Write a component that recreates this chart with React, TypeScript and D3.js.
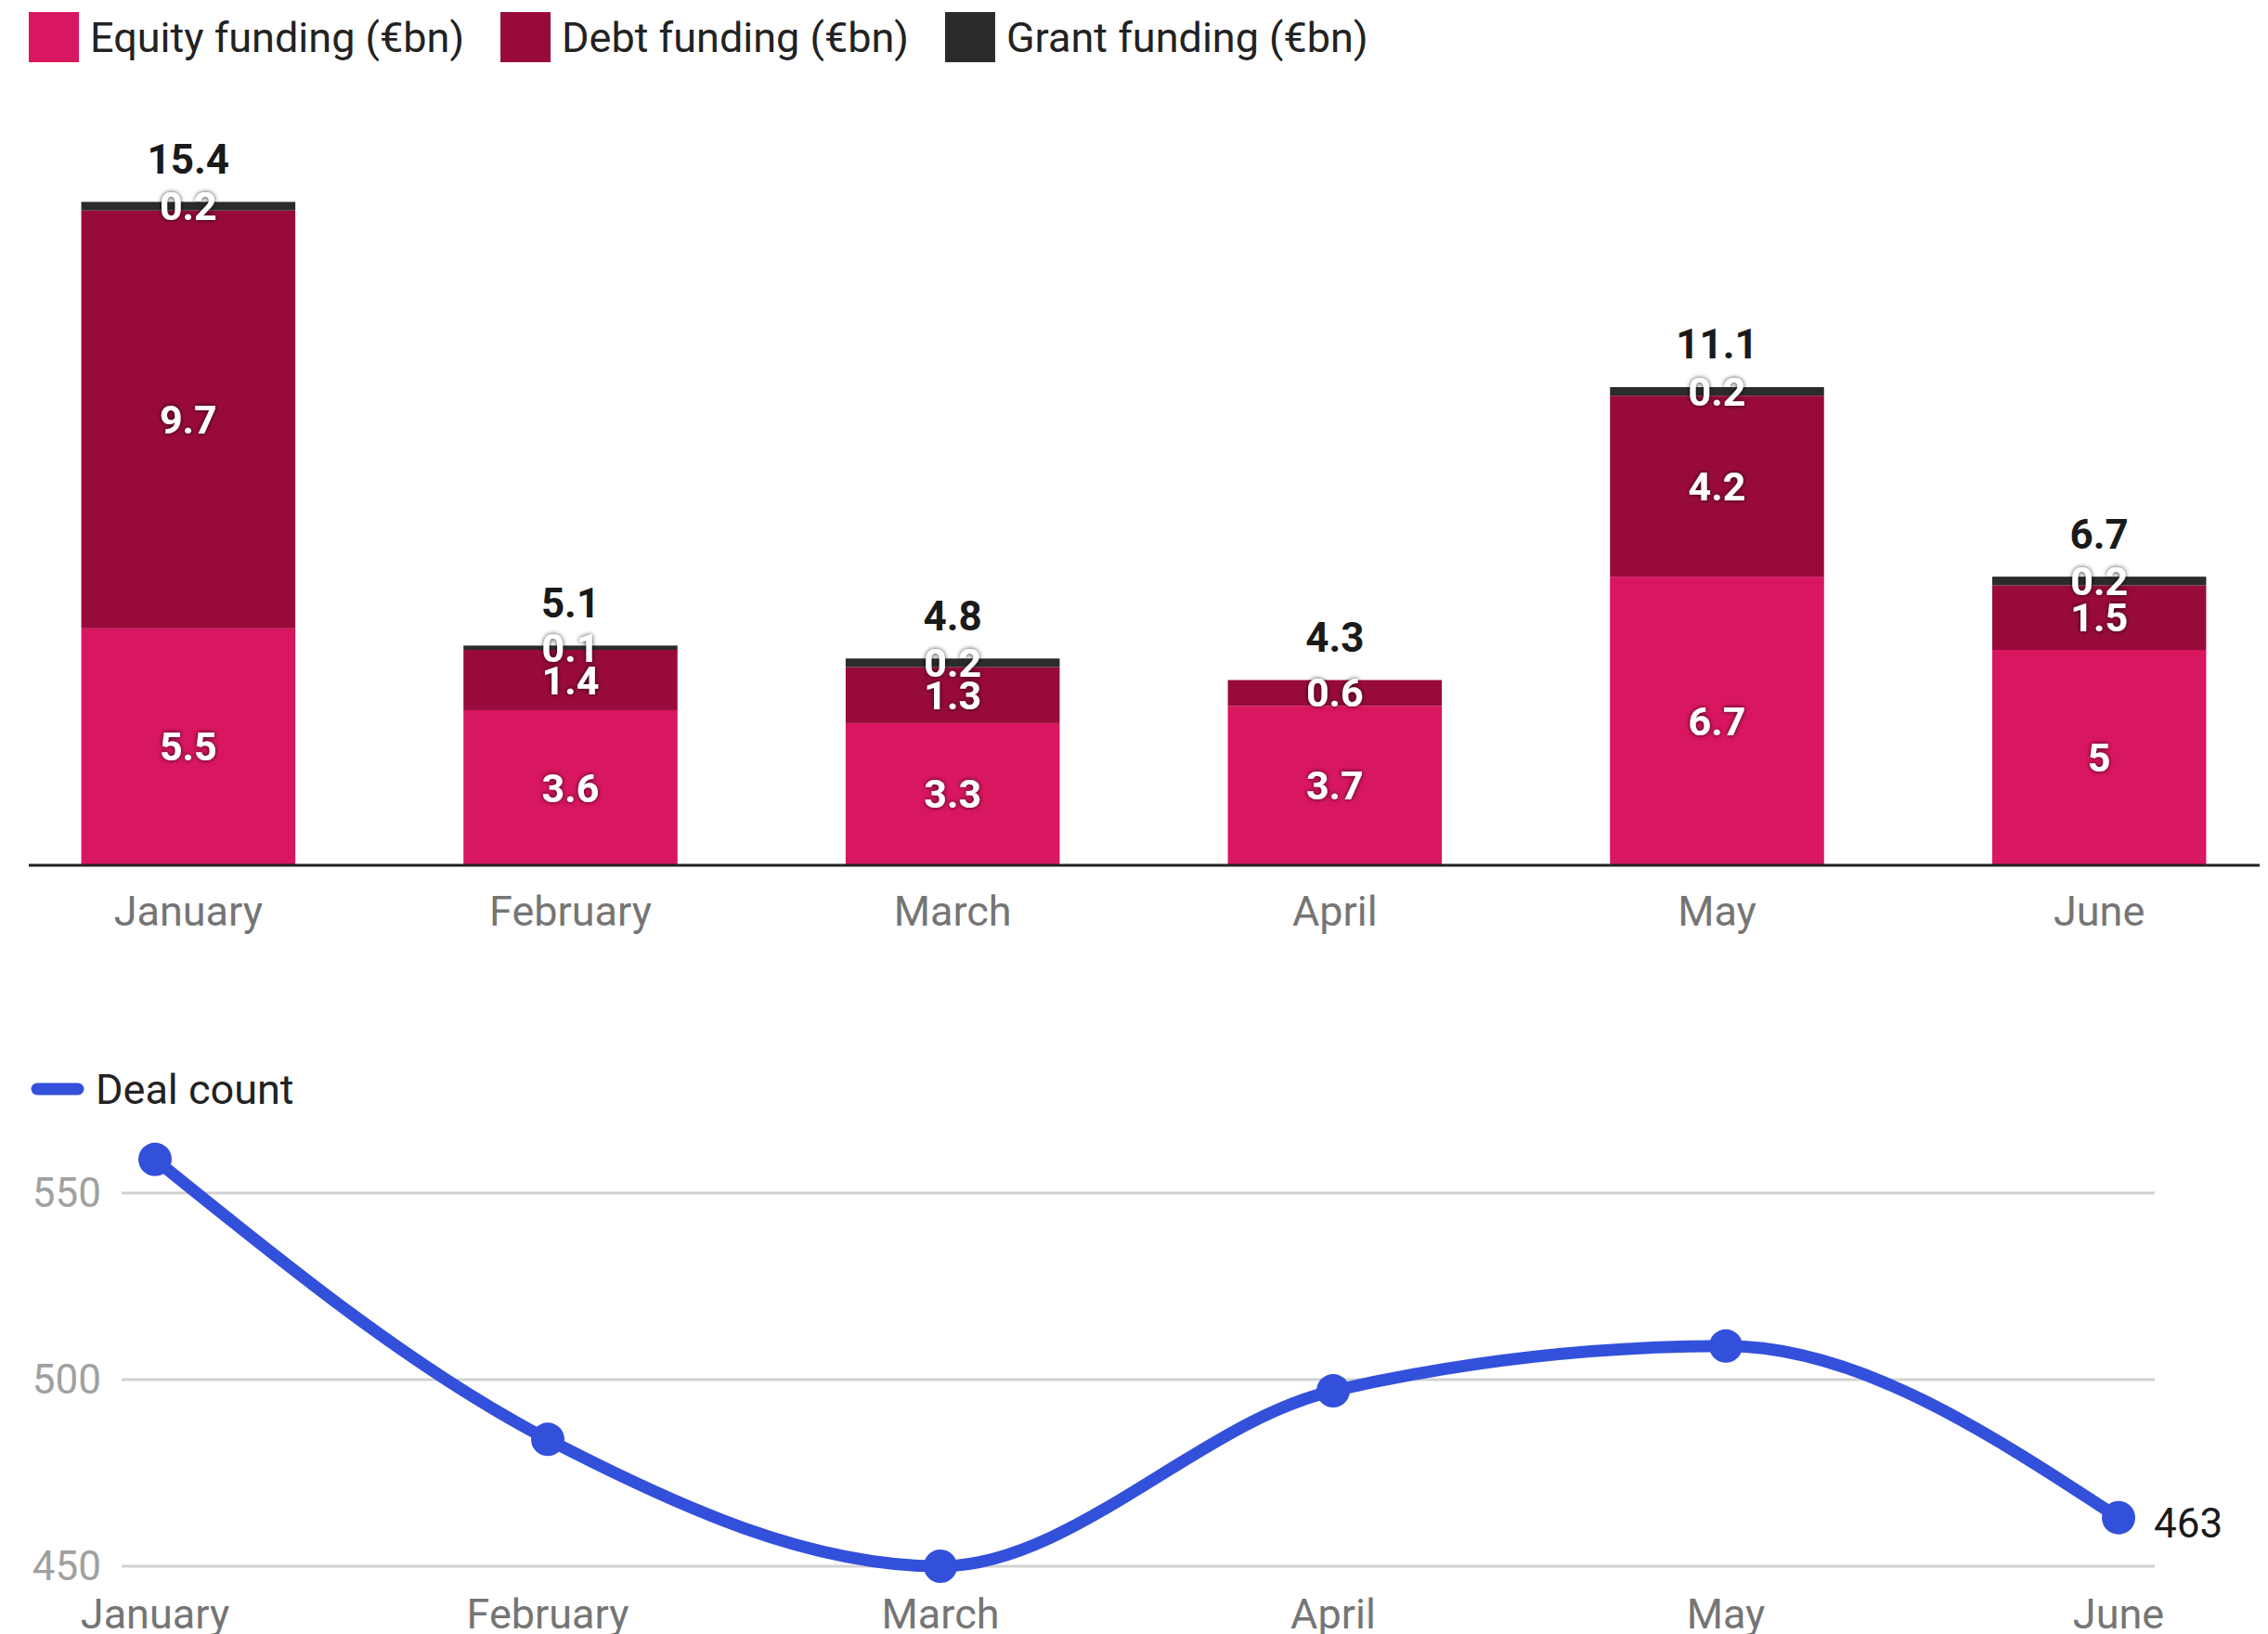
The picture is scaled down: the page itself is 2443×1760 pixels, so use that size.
import React from 'react';
import * as d3 from 'd3';

const months = ['January', 'February', 'March', 'April', 'May', 'June'];
const equity = [5.5, 3.6, 3.3, 3.7, 6.7, 5];
const debt = [9.7, 1.4, 1.3, 0.6, 4.2, 1.5];
const grant = [0.2, 0.1, 0.2, 0, 0.2, 0.2];
const totals = [15.4, 5.1, 4.8, 4.3, 11.1, 6.7];
const seriesKeys = ['equity', 'debt', 'grant'];
const seriesNames = ['Equity funding (€bn)', 'Debt funding (€bn)', 'Grant funding (€bn)'];
const seriesColors = ['#d91660', '#990a3c', '#2b2b2b'];

const dealCount = [559, 484, 450, 497, 509, 463];
const dealTicks = [450, 500, 550];
const lineName = 'Deal count';
const lineColor = '#3350db';

const W = 2443;
const H = 1760;
const FONT = 'Roboto, "Noto Sans", sans-serif';

function textWidth(s: string, font: string) {
  const ctx = document.createElement('canvas').getContext('2d');
  if (!ctx) return s.length * 22;
  ctx.font = font;
  return ctx.measureText(s).width;
}

export default function App() {
  // bar chart scales
  const x = d3.scaleBand().domain(months).range([-3, 2467]).paddingInner(0.44).paddingOuter(0.22);
  const y = d3.scaleLinear().domain([0, 20]).range([932, 4]);

  const rows = months.map((m, i) => ({ month: m, equity: equity[i], debt: debt[i], grant: grant[i] }));
  const stacked = d3.stack<any>().keys(seriesKeys)(rows);

  // legend layout
  let lx = 31;
  const legend = seriesNames.map((name, i) => {
    const item = { name, color: seriesColors[i], x: lx };
    lx += 54 + 12 + textWidth(name, `45px ${FONT}`) + 39;
    return item;
  });

  // line chart scales
  const xl = d3.scalePoint().domain(months).range([167, 2282]);
  const yl = d3.scaleLinear().domain([450, 550]).range([1687, 1285]);
  const line = d3.line<number>()
    .x((_, i) => xl(months[i]) as number)
    .y(d => yl(d))
    .curve(d3.curveMonotoneX);

  const last = dealCount.length - 1;

  return (
    <svg width={W} height={H} style={{ display: 'block', fontFamily: FONT }}>
      <style>{`body{margin:0}`}</style>
      <defs>
        <filter id="shadow" x="-30%" y="-30%" width="160%" height="160%">
          <feDropShadow dx="0" dy="0" stdDeviation="2.5" floodColor="#000" floodOpacity="0.8" />
        </filter>
      </defs>
      <rect width={W} height={H} fill="#fff" />

      {/* legend */}
      {legend.map(l => (
        <g key={l.name}>
          <rect x={l.x} y={13} width={54} height={54} fill={l.color} />
          <text x={l.x + 66} y={40} dy="0.35em" fontSize={45} fill="#222">{l.name}</text>
        </g>
      ))}

      {/* stacked bars */}
      {stacked.map((s, si) => (
        <g key={s.key} fill={seriesColors[si]}>
          {s.map((d, i) => (
            d[1] - d[0] > 0 ? (
              <rect key={i} x={x(months[i])} y={y(d[1])} width={x.bandwidth()} height={y(d[0]) - y(d[1])} />
            ) : null
          ))}
        </g>
      ))}
      {stacked.map((s, si) => (
        <g key={s.key + 'l'} filter="url(#shadow)">
          {s.map((d, i) => {
            const v = d[1] - d[0];
            if (v <= 0) return null;
            return (
              <text key={i} x={(x(months[i]) as number) + x.bandwidth() / 2} y={(y(d[0]) + y(d[1])) / 2} dy="0.35em"
                textAnchor="middle" fontSize={43} fontWeight={700} fill="#fff">
                {d3.format('~g')(+v.toFixed(1))}
              </text>
            );
          })}
        </g>
      ))}
      {totals.map((t, i) => (
        <text key={i} x={(x(months[i]) as number) + x.bandwidth() / 2} y={y(t) - 46} dy="0.35em"
          textAnchor="middle" fontSize={44} fontWeight={700} fill="#1a1a1a"
          stroke="#fff" strokeWidth={4} style={{ paintOrder: 'stroke' }}>
          {t}
        </text>
      ))}
      <line x1={31} x2={2434} y1={y(0)} y2={y(0)} stroke="#222" strokeWidth={3} />
      {months.map(m => (
        <text key={m} x={(x(m) as number) + x.bandwidth() / 2} y={981} dy="0.35em" textAnchor="middle"
          fontSize={45} fill="#757575">{m}</text>
      ))}

      {/* line chart legend */}
      <line x1={40} x2={84} y1={1173} y2={1173} stroke={lineColor} strokeWidth={13} strokeLinecap="round" />
      <text x={103} y={1173} dy="0.35em" fontSize={45} fill="#222">{lineName}</text>

      {/* gridlines */}
      {dealTicks.map(t => (
        <g key={t}>
          <line x1={131} x2={2321} y1={yl(t)} y2={yl(t)} stroke="#d2d2d2" strokeWidth={3} />
          <text x={109} y={yl(t)} dy="0.35em" textAnchor="end" fontSize={44} fill="#a0a0a0">{t}</text>
        </g>
      ))}

      <path d={line(dealCount) || ''} fill="none" stroke={lineColor} strokeWidth={13} strokeLinejoin="round" />
      {dealCount.map((v, i) => (
        <circle key={i} cx={xl(months[i])} cy={yl(v)} r={18} fill={lineColor} />
      ))}
      <text x={(xl(months[last]) as number) + 38} y={yl(dealCount[last]) + 6} dy="0.35em" fontSize={44} fill="#1a1a1a"
        stroke="#fff" strokeWidth={6} style={{ paintOrder: 'stroke' }}>
        {dealCount[last]}
      </text>
      {months.map(m => (
        <text key={m + 'l'} x={xl(m)} y={1738} dy="0.35em" textAnchor="middle" fontSize={45} fill="#757575">{m}</text>
      ))}
    </svg>
  );
}
